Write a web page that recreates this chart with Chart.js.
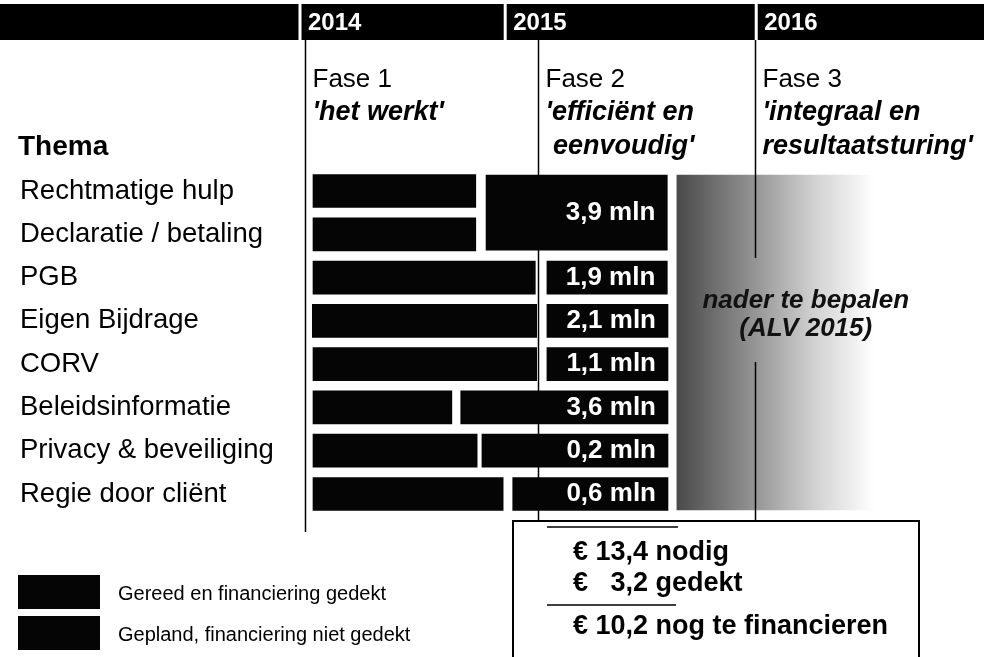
<!DOCTYPE html>
<html><head><meta charset="utf-8">
<script src="https://cdn.jsdelivr.net/npm/chart.js@4.4.1/dist/chart.umd.min.js"></script>
<style>html,body{margin:0;padding:0;background:#fff;}#wrap{width:984px;height:657px;position:relative}</style>
</head><body><div id="wrap"><canvas id="c" width="984" height="657"></canvas></div>
<script>
// ---- data ----
const themes = ['Rechtmatige hulp','Declaratie / betaling','PGB','Eigen Bijdrage','CORV','Beleidsinformatie','Privacy & beveiliging','Regie door cliënt'];
const yearLabels = ['2014','2015','2016'];
const yearStarts = [0, 30, 66.7];            // timeline position (0-100) where each year column starts
const phaseLabels = ['Fase 1','Fase 2','Fase 3'];
const phaseSubtitles = [["'het werkt'"], ["'efficiënt en", " eenvoudig'"], ["'integraal en", "resultaatsturing'"]];
const phaseStarts = [0.7, 34.8, 66.5];
const doneStart = [1.9, 1.9, 1.9, 1.8, 1.9, 1.9, 1.9, 1.9];
const doneEnd   = [25.7, 25.7, 34.4, 34.6, 34.6, 22.2, 25.9, 29.7];
const plannedRow   = [0.5, 2, 3, 4, 5, 6, 7];   // 0.5 = block covering the first two themes
const plannedStart = [27.2, 36.1, 36.1, 36.1, 23.5, 26.6, 31.1];
const plannedEnd   = [53.7, 53.7, 53.8, 53.8, 53.8, 53.8, 53.8];
const plannedMln   = [3.9, 1.9, 2.1, 1.1, 3.6, 0.2, 0.6];
const tbdRange = [55.1, 84];
const tbdLabel = ['nader te bepalen', '(ALV 2015)'];
const legendLabels = ['Gereed en financiering gedekt', 'Gepland, financiering niet gedekt'];
const totalNeeded = 13.4, covered = 3.2, toFinance = 10.2;

const fmt = v => v.toFixed(1).replace('.', ',');
const FONT = '"Liberation Sans", Arial, sans-serif';
const BLACK = '#050505';

const doneData = themes.map((t, i) => ({y: i, x: [doneStart[i], doneEnd[i]]}));
const plannedData = plannedRow.map((r, i) => ({y: r, x: [plannedStart[i], plannedEnd[i]], mln: plannedMln[i]}));

function tbdGradient(ctx) {
  const chart = ctx.chart;
  if (!chart.chartArea) return '#888';
  const xs = chart.scales.x;
  const g = chart.ctx.createLinearGradient(xs.getPixelForValue(tbdRange[0]), 0, xs.getPixelForValue(tbdRange[1]), 0);
  g.addColorStop(0, '#4a4a4a');
  g.addColorStop(0.35, '#8c8c8c');
  g.addColorStop(0.7, '#d2d2d2');
  g.addColorStop(1, '#ffffff');
  return g;
}

const deco = {
  id: 'deco',
  beforeDatasetsDraw(chart) {
    const c = chart.ctx, xs = chart.scales.x;
    c.save();
    // header band
    c.fillStyle = '#000';
    c.fillRect(0, 4, 984, 36);
    c.fillStyle = '#fff';
    yearStarts.forEach(v => { const px = xs.getPixelForValue(v); c.fillRect(px - 1.5, 2, 3, 39); });
    c.font = 'bold 24px ' + FONT; c.textBaseline = 'middle'; c.textAlign = 'left';
    yearLabels.forEach((y, i) => c.fillText(y, xs.getPixelForValue(yearStarts[i]) + 8, 23));
    // phase lines (behind bars)
    c.strokeStyle = '#000'; c.lineWidth = 1.5;
    const p = phaseStarts.map(v => Math.round(xs.getPixelForValue(v)) + 0.5);
    c.beginPath();
    c.moveTo(p[0], 40); c.lineTo(p[0], 532);
    c.moveTo(p[1], 40); c.lineTo(p[1], 521);
    c.stroke();
    c.restore();
  },
  afterDatasetsDraw(chart) {
    const c = chart.ctx, xs = chart.scales.x;
    c.save();
    const p = phaseStarts.map(v => Math.round(xs.getPixelForValue(v)) + 0.5);
    // phase 3 line over the gradient, interrupted by its text
    c.strokeStyle = '#000'; c.lineWidth = 1.5;
    c.beginPath();
    c.moveTo(p[2], 40); c.lineTo(p[2], 258);
    c.moveTo(p[2], 362); c.lineTo(p[2], 521);
    c.stroke();
    // phase texts
    c.fillStyle = '#000'; c.textAlign = 'left'; c.textBaseline = 'middle';
    phaseLabels.forEach((lab, i) => {
      c.font = '26px ' + FONT;
      c.fillText(lab, p[i] + 7, 80);
      c.font = 'italic bold 27px ' + FONT;
      phaseSubtitles[i].forEach((s, j) => c.fillText(s, p[i] + 7, 113 + j * 34));
    });
    c.font = 'bold 28px ' + FONT;
    c.fillText('Thema', 18, 147);
    // amounts inside planned bars
    c.fillStyle = '#fff'; c.textAlign = 'right'; c.font = 'bold 26px ' + FONT;
    [1, 2].forEach(di => {
      const meta = chart.getDatasetMeta(di);
      meta.data.forEach((el, k) => {
        const d = chart.data.datasets[di].data[k];
        c.fillText(fmt(d.mln) + ' mln', el.x - 12, el.y);
      });
    });
    // tbd text
    const gm = chart.getDatasetMeta(3).data[0];
    c.fillStyle = '#111'; c.textAlign = 'center'; c.font = 'italic bold 26px ' + FONT;
    const cx = (xs.getPixelForValue(tbdRange[0]) + xs.getPixelForValue(tbdRange[1])) / 2 + 30;
    c.fillText(tbdLabel[0], cx, gm.y - 42);
    c.fillText(tbdLabel[1], cx, gm.y - 14);
    // legend
    c.textAlign = 'left'; c.font = '20px ' + FONT;
    const ly = [575, 616];
    legendLabels.forEach((l, i) => {
      c.fillStyle = chart.data.datasets[i].backgroundColor;
      c.fillRect(18, ly[i], 82, 34);
      c.fillStyle = '#000';
      c.fillText(l, 118, ly[i] + 19);
    });
    // summary box
    c.strokeStyle = '#000'; c.lineWidth = 2;
    c.strokeRect(513, 521, 406, 160);
    c.lineWidth = 1.5;
    c.beginPath(); c.moveTo(547, 527); c.lineTo(678, 527); c.moveTo(547, 605); c.lineTo(676, 605); c.stroke();
    c.fillStyle = '#000'; c.font = 'bold 27px ' + FONT;
    c.fillText('€ ' + fmt(totalNeeded) + ' nodig', 573, 553);
    c.fillText('€   ' + fmt(covered) + ' gedekt', 573, 584);
    c.fillText('€ ' + fmt(toFinance) + ' nog te financieren', 573, 627);
    c.restore();
  }
};

new Chart(document.getElementById('c'), {
  type: 'bar',
  data: {
    datasets: [
      {label: legendLabels[0], data: doneData, backgroundColor: BLACK, barThickness: 33, grouped: false, borderWidth: 0},
      {label: legendLabels[1], data: plannedData.filter(d => Number.isInteger(d.y)), backgroundColor: BLACK, barThickness: 33, grouped: false, borderWidth: 0},
      {label: legendLabels[1] + ' (2 thema\'s)', data: plannedData.filter(d => !Number.isInteger(d.y)), backgroundColor: BLACK, barThickness: 75, grouped: false, borderWidth: 0},
      {label: tbdLabel[0], data: [{y: 3.5, x: tbdRange}], backgroundColor: tbdGradient, barThickness: 335, grouped: false, borderWidth: 0}
    ]
  },
  options: {
    indexAxis: 'y',
    responsive: false,
    animation: false,
    devicePixelRatio: 1,
    layout: {padding: {top: 169.4, bottom: 141.4, left: 20, right: 0}},
    plugins: {legend: {display: false}, tooltip: {enabled: false}},
    scales: {
      x: {type: 'linear', min: 0, max: 100, bounds: 'data', display: false, grid: {display: false}},
      y: {
        type: 'linear', reverse: true, min: -0.5, max: 7.5, bounds: 'data', offset: false,
        grid: {display: false}, border: {display: false},
        afterBuildTicks: s => { s.ticks = themes.map((t, i) => ({value: i})); },
        afterDataLimits: s => { s.min = -0.5; s.max = 7.5; },
        afterFit: s => { s.width = 280; },
        ticks: {callback: v => themes[v], color: '#000', font: {family: FONT, size: 27.5}, crossAlign: 'far', padding: 0, autoSkip: false}
      }
    }
  },
  plugins: [deco]
});
</script>
</body></html>
